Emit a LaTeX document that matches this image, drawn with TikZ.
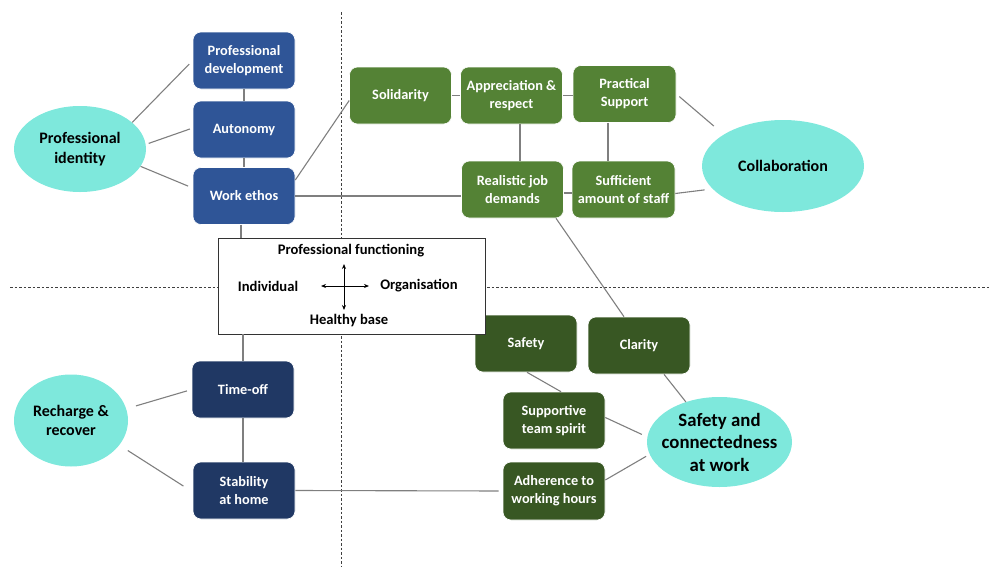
\documentclass[tikz,border=0pt]{standalone}
\usepackage{fontspec}
\setmainfont{Carlito}
\usetikzlibrary{arrows.meta,shapes.geometric}
\definecolor{blueA}{HTML}{2F5597}
\definecolor{blueB}{HTML}{203864}
\definecolor{greenA}{HTML}{548235}
\definecolor{greenB}{HTML}{385723}
\definecolor{turq}{HTML}{7EE8DC}
\definecolor{lineg}{HTML}{7F7F7F}
\tikzset{
  box/.style={rectangle, rounded corners=8pt, minimum width=102pt, minimum height=57pt,
    text=white, align=center, font=\fontsize{14.3}{18}\selectfont\bfseries, draw=white, line width=0.6pt, inner sep=1pt},
  bluea/.style={box, fill=blueA},
  blueb/.style={box, fill=blueB},
  greena/.style={box, fill=greenA},
  greenb/.style={box, fill=greenB},
  oval/.style={ellipse, fill=turq, text=black, align=center, inner sep=0pt,
    font=\fontsize{16}{19.5}\selectfont\bfseries},
  conn/.style={draw=lineg, line width=1.1pt},
  divider/.style={draw=black!75, line width=0.7pt, dash pattern=on 2.5pt off 2pt},
  lbl/.style={text=black, font=\fontsize{14.6}{17}\selectfont\bfseries, inner sep=0pt}
}
\begin{document}
\begin{tikzpicture}[x=1pt,y=-1pt]
\useasboundingbox (0,0) rectangle (997,571);
% dividers
\draw[divider] (341,12) -- (341,566);
\draw[divider] (10,287) -- (990,287);

% blue nodes
\node[bluea] (pd) at (244,60.5) {Professional\\development};
\node[bluea] (aut) at (244,129.5) {Autonomy};
\node[bluea] (we) at (244,196) {Work ethos};
\node[blueb] (to) at (243,389.5) {Time-off};
\node[blueb] (sah) at (244,490.5) {Stability\\at home};

% green nodes
\node[greena] (sol) at (400.5,95.5) {Solidarity};
\node[greena] (apr) at (511.5,95.5) {Appreciation \&\\respect};
\node[greena, minimum width=103pt] (ps) at (624.5,94) {Practical\\Support};
\node[greena] (rjd) at (512.5,189.5) {Realistic job\\demands};
\node[greena, minimum width=103pt] (sas) at (623.5,189.5) {Sufficient\\amount of staff};
\node[greenb] (saf) at (526,343.5) {Safety};
\node[greenb] (cla) at (639,345.5) {Clarity};
\node[greenb] (sup) at (554,420.5) {Supportive\\team spirit};
\node[greenb, minimum height=58pt] (adh) at (554,491) {Adherence to\\working hours};

% ovals
\node[oval, minimum width=132pt, minimum height=86pt] (pi) at (80,149) {Professional\\identity};
\node[oval, minimum width=162pt, minimum height=92pt] (col) at (783,166) {Collaboration};
\node[oval, minimum width=145pt, minimum height=90pt, inner sep=-12pt, font=\fontsize{18.8}{22.5}\selectfont\bfseries] (sc) at (719.5,442) {Safety and\\connectedness\\at work};
\node[oval, minimum width=114pt, minimum height=92pt] (rr) at (71,420.5) {Recharge \&\\recover};

% central box
\node[draw=black!80, fill=white, line width=0.8pt, minimum width=267pt, minimum height=96pt, inner sep=0pt] (cb) at (351.5,286) {};
\node[lbl] (pf) at (351,251) {Professional functioning};
\node[lbl] (ind) at (268,286) {Individual};
\node[lbl] (org) at (419,286) {Organisation};
\node[lbl] (hb) at (349,321) {Healthy base};
\coordinate (cxL) at (321,286);
\coordinate (cxR) at (369,286);
\coordinate (cyT) at (344,264);
\coordinate (cyB) at (344,310);
\draw[{Stealth[length=5pt,width=4pt]}-{Stealth[length=5pt,width=4pt]}, line width=0.8pt] (cxL) -- (cxR);
\draw[{Stealth[length=5pt,width=4pt]}-{Stealth[length=5pt,width=4pt]}, line width=0.8pt] (cyT) -- (cyB);

% vertical spine connectors
\draw[conn] (pd.south) -- (aut.north);
\draw[conn] (aut.south) -- (we.north);
\draw[conn] ([xshift=-3pt]we.south) -- ([xshift=-110.5pt]cb.north);
\draw[conn] ([xshift=-108.5pt]cb.south) -- (to.north);
\draw[conn] (to.south) -- ([xshift=-1pt]sah.north);

% professional identity
\draw[conn, shorten >=5pt] (pi.27) -- (pd.west);
\draw[conn, shorten <=3pt, shorten >=3pt] (pi.4) -- ([yshift=1.5pt]aut.west);
\draw[conn, shorten >=5pt] (pi.-16) -- ([yshift=8pt]we.west);

% work ethos to organisation side
\draw[conn] ([yshift=16pt]we.east) -- ([yshift=-5pt]sol.west);
\draw[conn] (we.east) -- ([yshift=-6.5pt]rjd.west);

% green top cluster
\draw[conn] (sol.east) -- (apr.west);
\draw[conn] (apr.east) -- ([yshift=-1.5pt]ps.west);
\draw[conn] ([xshift=8.5pt]apr.south) -- ([xshift=7.5pt]rjd.north);
\draw[conn] ([xshift=-16.5pt]ps.south) -- ([xshift=-15.5pt]sas.north);
\draw[conn] ([yshift=-3.5pt]rjd.east) -- ([yshift=-3.5pt]sas.west);
\draw[conn, shorten <=4pt, shorten >=13pt] (ps.east) -- (col.152);
\draw[conn, shorten >=8pt] ([yshift=-4pt]sas.east) -- (col.198);

% realistic to clarity
\draw[conn] ([xshift=43.5pt]rjd.south) -- ([xshift=-15pt]cla.north);

% safety & connectedness
\draw[conn] ([xshift=25pt]cla.south) -- (sc.130);
\draw[conn] ([xshift=1pt]saf.south) -- ([xshift=7pt]sup.north);
\draw[conn, shorten >=6pt] ([yshift=3pt]sup.east) -- (sc.176);
\draw[conn, shorten >=4pt] ([yshift=11pt]adh.east) -- (sc.-170);

% recharge
\draw[conn, shorten <=10pt, shorten >=5pt] (rr.12) -- (to.west);
\draw[conn, shorten <=10pt, shorten >=11pt] (rr.-27) -- ([yshift=-1.5pt]sah.west);
\draw[conn, shorten >=4pt] (sah.east) -- (adh.west);
\end{tikzpicture}
\end{document}
